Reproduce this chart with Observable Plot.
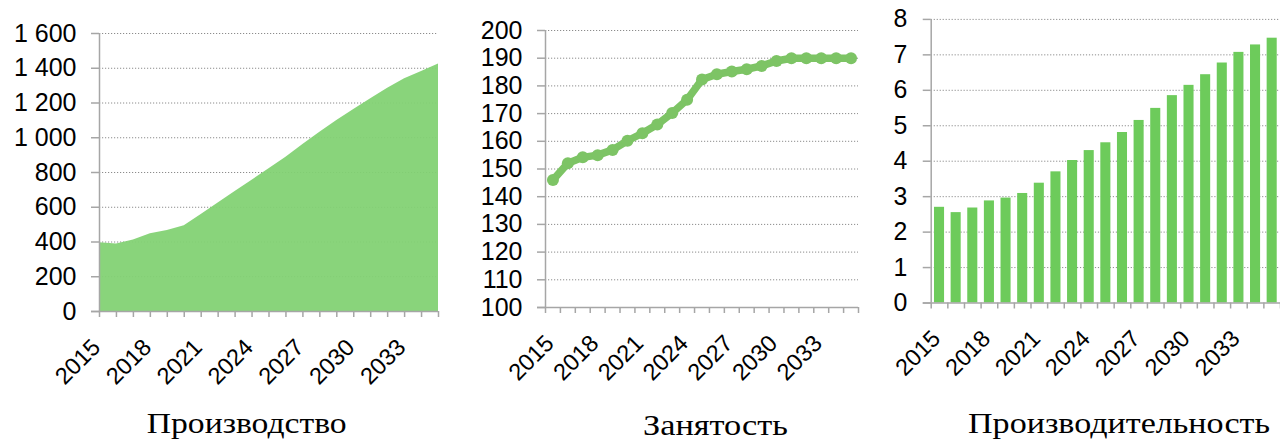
<!DOCTYPE html>
<html><head><meta charset="utf-8">
<script src="https://cdn.jsdelivr.net/npm/d3@7"></script>
<script src="https://cdn.jsdelivr.net/npm/@observablehq/plot@0.6"></script>
<style>
html,body{margin:0;padding:0;background:#fff}
body{width:1280px;height:443px;overflow:hidden;position:relative;font-family:"Liberation Sans",Arial,sans-serif}
.panel{position:absolute;top:0}
#titles{position:absolute;left:0;top:0}
</style></head><body>
<div id="p1" class="panel" style="left:0px"></div>
<div id="p2" class="panel" style="left:430px"></div>
<div id="p3" class="panel" style="left:870px"></div>
<svg id="titles" width="1280" height="443"></svg>
<script>
// ---- data ----
const years = [2015,2016,2017,2018,2019,2020,2021,2022,2023,2024,2025,2026,2027,2028,2029,2030,2031,2032,2033,2034,2035];
const labelYears = [2015,2018,2021,2024,2027,2030,2033];
const production = [395,388,412,447,466,493,558,625,691,756,821,888,961,1032,1099,1163,1224,1285,1339,1381,1425];
const employment = [146,152.1,154.2,155,156.9,160.2,162.9,166.1,170.2,175,182.3,184.2,185.2,186,187.2,189,190,190,190,190,190];
const productivity = [2.70,2.55,2.68,2.88,2.96,3.09,3.38,3.70,4.02,4.30,4.52,4.81,5.15,5.49,5.85,6.14,6.44,6.77,7.07,7.28,7.47];
const yTicks1 = [0,200,400,600,800,1000,1200,1400,1600];
const yTicks2 = [100,110,120,130,140,150,160,170,180,190,200];
const yTicks3 = [0,1,2,3,4,5,6,7,8];
const titles = ["Производство","Занятость","Производительность"];

// ---- style ----
const AXIS = "#a6a6a6";
const GRID = "#8c8c8c";
const AREA = "#82d173";
const LINE = "#7dc465";
const BAR = "#6dcb5b";
const fmtSpace = d => d3.format(",")(d).replace(/,/g, " ");

const rows = (vals) => years.map((y, i) => ({year: y, v: vals[i]}));
const boundaries = years.map(y => y - 0.5).concat([years[years.length - 1] + 0.5]);

function grid(ticks) {
  return Plot.ruleY(ticks.slice(1), {stroke: GRID, strokeWidth: 1, strokeDasharray: "1.2 1.8"});
}
function yAxis(ticks, fmt, pad) {
  return Plot.axisY({ticks, tickSize: 8, tickPadding: pad, stroke: AXIS, strokeWidth: 1.5,
    fontSize: 25, tickFormat: fmt, fill: "#000", label: null});
}
function xLabels() {
  return Plot.axisX({ticks: labelYears, tickSize: 0, tickRotate: -45, tickPadding: 24, dx: -3, dy: 8,
    fontSize: 23.5, tickFormat: d => String(d), label: null, fill: "#000"});
}
function xTicks(ticks) {
  return Plot.axisX({ticks, tickSize: 6, stroke: AXIS, strokeWidth: 1.5, tickFormat: () => "", label: null});
}
const H = 443;

// Panel 1: area
const p1 = Plot.plot({
  width: 440, height: H,
  marginLeft: 99, marginRight: 2, marginTop: 33, marginBottom: H - 311,
  style: {fontFamily: "Liberation Sans, Arial, sans-serif", color: "#000", background: "transparent"},
  x: {domain: [2015, 2035]},
  y: {domain: [0, 1600]},
  marks: [
    grid(yTicks1),
    Plot.areaY(rows(production), {x: "year", y: "v", fill: AREA, fillOpacity: 0.94}),
    Plot.ruleY([0], {stroke: AXIS, strokeWidth: 1.5, insetLeft: -8}),
    Plot.ruleX([2015], {stroke: AXIS, strokeWidth: 1.5}),
    yAxis(yTicks1, fmtSpace, 15),
    xTicks(years),
    xLabels()
  ]
});
document.getElementById("p1").append(p1);

// Panel 2: line with dots
const p2 = Plot.plot({
  width: 440, height: H,
  marginLeft: 115, marginRight: 12, marginTop: 30, marginBottom: H - 307,
  style: {fontFamily: "Liberation Sans, Arial, sans-serif", color: "#000", background: "transparent"},
  x: {domain: [2014.5, 2035.5]},
  y: {domain: [100, 200]},
  marks: [
    grid(yTicks2),
    Plot.ruleY([100], {stroke: AXIS, strokeWidth: 1.5, insetLeft: -8}),
    Plot.ruleX([2014.5], {stroke: AXIS, strokeWidth: 1.5}),
    Plot.line(rows(employment), {x: "year", y: "v", stroke: LINE, strokeWidth: 7.5, strokeLinejoin: "round"}),
    Plot.dot(rows(employment), {x: "year", y: "v", r: 6, fill: LINE, stroke: "none"}),
    yAxis(yTicks2, d => String(d), 15),
    xTicks(boundaries),
    xLabels()
  ]
});
document.getElementById("p2").append(p2);

// Panel 3: bars
const p3 = Plot.plot({
  width: 412, height: H,
  marginLeft: 61, marginRight: 0, marginTop: 19, marginBottom: H - 304,
  style: {fontFamily: "Liberation Sans, Arial, sans-serif", color: "#000", background: "transparent"},
  x: {domain: [2014.5, 2035.5]},
  y: {domain: [0, 8]},
  marks: [
    grid(yTicks3),
    Plot.rectY(rows(productivity), {x1: d => d.year - 0.5, x2: d => d.year + 0.5, y: "v", fill: BAR, insetLeft: 3.3, insetRight: 3.3}),
    Plot.ruleY([0], {stroke: AXIS, strokeWidth: 1.5, insetLeft: -8}),
    Plot.ruleX([2014.5], {stroke: AXIS, strokeWidth: 1.5}),
    yAxis(yTicks3, d => String(d), 16),
    xTicks(boundaries),
    xLabels()
  ]
});
document.getElementById("p3").append(p3);

// Titles
const titlePos = [[246.7, 433], [715.5, 435], [1119, 433]];
const titleWidths = [200, 145, 302];
d3.select("#titles").selectAll("text").data(titles).join("text")
  .attr("x", (d, i) => titlePos[i][0])
  .attr("y", (d, i) => titlePos[i][1])
  .attr("text-anchor", "middle")
  .attr("font-family", "Liberation Serif, Times New Roman, serif")
  .attr("font-size", 30)
  .attr("textLength", (d, i) => titleWidths[i])
  .attr("lengthAdjust", "spacingAndGlyphs")
  .attr("fill", "#000")
  .text(d => d);
</script>
</body></html>
